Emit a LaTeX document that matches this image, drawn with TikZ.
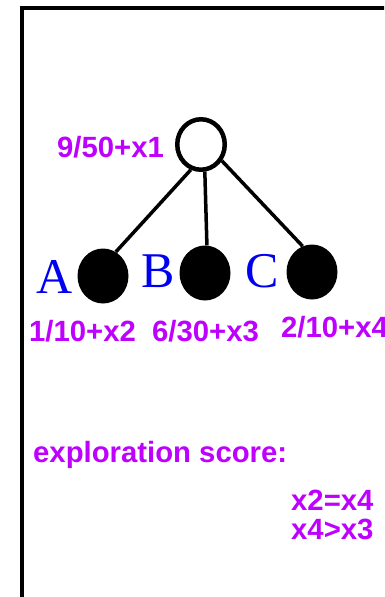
\documentclass[tikz,border=0pt]{standalone}
\usepackage{fontspec}
\setmainfont{Liberation Serif}
\newfontfamily\lsans{Liberation Sans}
\usetikzlibrary{shapes.geometric}
\definecolor{vpurple}{RGB}{190,0,255}
\definecolor{lblue}{RGB}{0,0,240}
\begin{document}
\begin{tikzpicture}[x=1pt,y=-1pt,
  score/.style={anchor=base west,inner sep=0pt,text=vpurple,font=\lsans\bfseries\fontsize{29.3}{30}\selectfont},
  letter/.style={anchor=base west,inner sep=0pt,text=lblue,font=\fontsize{50}{50}\selectfont},
  opennode/.style={ellipse,draw=black,line width=4.5pt,fill=white,minimum width=47.5pt,minimum height=50.5pt,inner sep=0pt},
  leaf/.style={ellipse,fill=black,minimum width=51pt,minimum height=55pt,inner sep=0pt},
  edge/.style={line width=3.5pt,black}]
\useasboundingbox (0,0) rectangle (384,597);
\clip (0,0) rectangle (384,597);
% frame
\coordinate (fbl) at (22,600);
\coordinate (ftl) at (22,8);
\coordinate (ftr) at (390,8);
\draw[line width=4pt,black] (fbl) -- (ftl) -- (ftr);
% tree nodes
\node[opennode] (root) at (201,144.5) {};
\node[leaf] (A) at (103,276) {};
\node[leaf] (B) at (205,273) {};
\node[leaf] (C) at (312,272) {};
\draw[edge] (root.248) -- (A.62);
\draw[edge] (root.278) -- (B.86);
\draw[edge] (root.322) -- (C.110);
% letters
\node[letter] (la) at (36,293) {A};
\node[letter] (lb) at (141,287) {B};
\node[letter] (lc) at (245,287) {C};
% scores
\node[score] (s1) at (57,157) {9/50+x1};
\node[score] (s2) at (29,341) {1/10+x2};
\node[score] (s3) at (152,341) {6/30+x3};
\node[score] (s4) at (281,337) {2/10+x4};
\node[score] (ex) at (33,462) {exploration score:};
\node[score] (r1) at (291,510) {x2=x4};
\node[score] (r2) at (291,539) {x4>x3};
\end{tikzpicture}
\end{document}
